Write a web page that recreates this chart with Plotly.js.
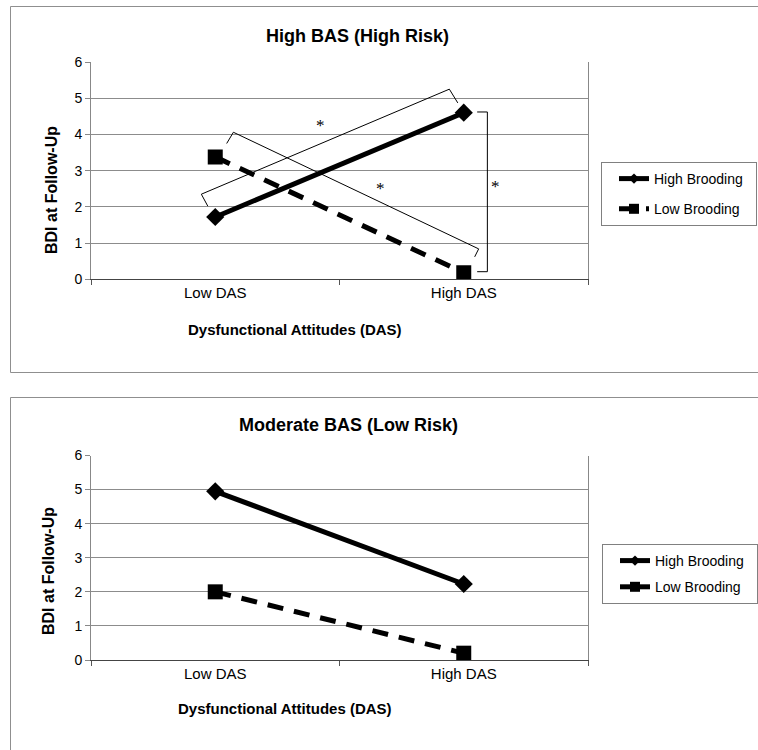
<!DOCTYPE html>
<html>
<head>
<meta charset="utf-8">
<script src="https://cdn.plot.ly/plotly-3.0.1.min.js"></script>
<style>
  html, body { margin: 0; padding: 0; background: #fff; }
  #chart { width: 758px; height: 750px; }
</style>
</head>
<body>
<div id="chart"></div>
<script>
// ---- data ----
const categories = ["Low DAS", "High DAS"];
const seriesNames = ["High Brooding", "Low Brooding"];
const highBroodingTop = [1.72, 4.60];
const lowBroodingTop = [3.38, 0.18];
const highBroodingBottom = [4.95, 2.23];
const lowBroodingBottom = [2.00, 0.20];
const yTicks = [0, 1, 2, 3, 4, 5, 6];
const titleTop = "High BAS (High Risk)";
const titleBottom = "Moderate BAS (Low Risk)";
const xTitle = "Dysfunctional Attitudes (DAS)";
const yTitle = "BDI at Follow-Up";

// significance brackets (category index, BDI value) and star positions
const bracketA = [[-0.030, 2.02], [-0.056, 2.35], [0.942, 5.25], [0.976, 4.87]];
const bracketB = [[0.046, 3.75], [0.073, 4.06], [1.060, 0.84], [1.044, 0.62]];
const bracketC = [[1.054, 4.62], [1.095, 4.62], [1.095, 0.21], [1.054, 0.21]];
const stars = [[0.423, 4.25], [0.665, 2.51], [1.129, 2.57]];

// ---- layout helpers ----
const W = 758, H = 750;
const px = x => x / W;
const py = y => 1 - y / H;
const FONT = "Liberation Sans, Arial, Helvetica, sans-serif";
const SERIF = "Liberation Serif, Times New Roman, serif";
const PAD = "\u00A0\u00A0";

const xDomain = [px(91), px(588)];
const yDomainTop = [py(279.3), py(62)];
const yDomainBottom = [py(660), py(455.5)];

const solid = {color: "#000", width: 5};
const dashed = {color: "#000", width: 5, dash: "16px,11px"};
const diamond = {symbol: "diamond", size: 14, color: "#000"};
const square = {symbol: "square", size: 15, color: "#000"};
const diamondKey = {symbol: "diamond", size: 8, color: "#000"};
const squareKey = {symbol: "square", size: 10, color: "#000"};

function series(y, line, marker, xa, ya) {
  return {x: categories, y: y, type: "scatter", mode: "lines+markers", line: line, marker: marker,
    xaxis: xa, yaxis: ya, showlegend: false};
}
function key(name, line, marker, xa, ya, legend, group) {
  return {x: [categories[0]], y: [null], name: name + PAD, type: "scatter", mode: "lines+markers",
    line: line, marker: marker, xaxis: xa, yaxis: ya, legend: legend, legendgroup: group, showlegend: true};
}

const traces = [
  series(highBroodingTop, solid, diamond, "x", "y"),
  series(lowBroodingTop, dashed, square, "x", "y"),
  series(highBroodingBottom, solid, diamond, "x2", "y2"),
  series(lowBroodingBottom, dashed, square, "x2", "y2"),
  key(seriesNames[0], solid, diamondKey, "x", "y", "legend", "a"),
  key(seriesNames[1], dashed, squareKey, "x", "y", "legend", "b"),
  key(seriesNames[0], solid, diamondKey, "x2", "y2", "legend2", "c"),
  key(seriesNames[1], solid, squareKey, "x2", "y2", "legend2", "d")
];

function xAxis(anchor) {
  return {
    type: "category", domain: xDomain, anchor: anchor, range: [-0.5, 1.5],
    categoryorder: "array", categoryarray: categories,
    tickson: "boundaries", ticks: "outside", ticklen: 5, tickcolor: "#555", tickwidth: 1,
    showline: true, linecolor: "#444", linewidth: 1, showgrid: false, zeroline: false,
    tickfont: {family: FONT, size: 15, color: "#000"}, fixedrange: true
  };
}
function yAxis(anchor, domain) {
  return {
    domain: domain, anchor: anchor, range: [0, 6], tickvals: yTicks,
    ticks: "outside", ticklen: 5, tickcolor: "#888", tickwidth: 1,
    showline: true, linecolor: "#888", linewidth: 1, mirror: true,
    showgrid: true, gridcolor: "#8c8c8c", gridwidth: 1, zeroline: false,
    tickfont: {family: FONT, size: 14, color: "#000"}, fixedrange: true
  };
}

function bracketShapes(points, xref, yref) {
  const out = [];
  for (let i = 0; i < points.length - 1; i++) {
    out.push({type: "line", xref: xref, yref: yref,
      x0: points[i][0], y0: points[i][1], x1: points[i + 1][0], y1: points[i + 1][1],
      line: {color: "#000", width: 1}});
  }
  return out;
}

const frameLine = {color: "#8f8f8f", width: 1};
const shapes = [
  // outer frames
  {type: "rect", xref: "paper", yref: "paper", x0: px(10.5), x1: px(770), y0: py(372.5), y1: py(6.5), line: frameLine, layer: "below"},
  {type: "rect", xref: "paper", yref: "paper", x0: px(10.5), x1: px(770), y0: py(770), y1: py(397.5), line: frameLine, layer: "below"},
  ...bracketShapes(bracketA, "x", "y"),
  ...bracketShapes(bracketB, "x", "y"),
  ...bracketShapes(bracketC, "x", "y")
];

function label(text, x, y, size, angle) {
  return {text: "<b>" + text + "</b>", xref: "paper", yref: "paper", x: px(x), y: py(y),
    xanchor: "center", yanchor: "middle", textangle: angle || 0,
    showarrow: false, font: {family: FONT, size: size, color: "#000"}};
}

const annotations = [
  label(titleTop, 357.5, 35.5, 18),
  label(titleBottom, 348.5, 425, 18),
  label(yTitle, 51, 190, 16, -90),
  label(yTitle, 48, 571, 16, -90),
  label(xTitle, 295, 330, 15),
  label(xTitle, 285, 708, 15),
  ...stars.map(s => ({text: "*", xref: "x", yref: "y", x: s[0], y: s[1], showarrow: false,
   xanchor: "center", yanchor: "middle", font: {family: SERIF, size: 17, color: "#000"}}))
];

const legendBase = {
  xanchor: "left", yanchor: "top", bgcolor: "#fff", bordercolor: "#808080", borderwidth: 1,
  font: {family: FONT, size: 14, color: "#000"}, traceorder: "grouped",
  indentation: 12, itemclick: false, itemdoubleclick: false
};

const layout = {
  width: W, height: H, margin: {l: 0, r: 0, t: 0, b: 0},
  paper_bgcolor: "#fff", plot_bgcolor: "#fff",
  xaxis: xAxis("y"), yaxis: yAxis("x", yDomainTop),
  xaxis2: xAxis("y2"), yaxis2: yAxis("x2", yDomainBottom),
  legend: Object.assign({}, legendBase, {x: px(601), y: py(162), tracegroupgap: 9}),
  legend2: Object.assign({}, legendBase, {x: px(602), y: py(544), tracegroupgap: 5}),
  shapes: shapes, annotations: annotations, hovermode: false, showlegend: true
};

Plotly.newPlot("chart", traces, layout, {displayModeBar: false, staticPlot: true});
</script>
</body>
</html>
